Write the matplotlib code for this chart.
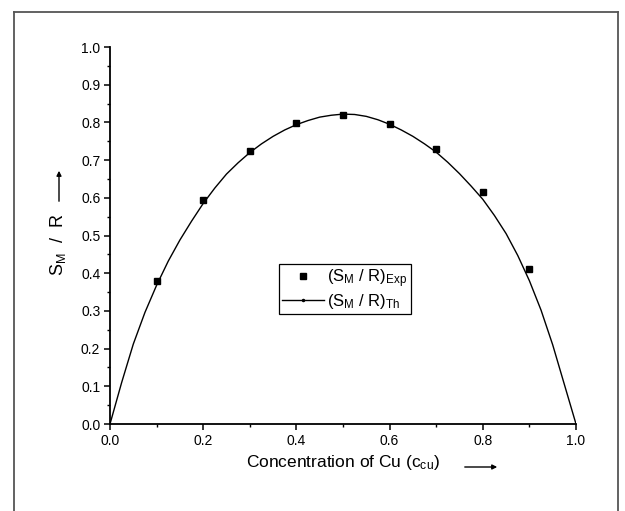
import matplotlib
matplotlib.use("Agg")
import matplotlib.pyplot as plt
from matplotlib.lines import Line2D
from matplotlib.patches import FancyArrowPatch

plt.rcParams['font.family'] = ['Liberation Sans', 'DejaVu Sans']
plt.rcParams['mathtext.fontset'] = 'custom'
plt.rcParams['mathtext.rm'] = 'Liberation Sans'
plt.rcParams['mathtext.it'] = 'Liberation Sans'

# Experimental points
c_exp = [0.1, 0.2, 0.3, 0.4, 0.5, 0.6, 0.7, 0.8, 0.9]
s_exp = [0.380, 0.593, 0.724, 0.799, 0.820, 0.796, 0.729, 0.615, 0.412]

# Theoretical curve
c_th = [0.000, 0.025, 0.050, 0.075, 0.100, 0.125, 0.150, 0.175, 0.200, 0.225,
        0.250, 0.275, 0.300, 0.325, 0.350, 0.375, 0.400, 0.425, 0.450, 0.475,
        0.500, 0.525, 0.550, 0.575, 0.600, 0.625, 0.650, 0.675, 0.700, 0.725,
        0.750, 0.775, 0.800, 0.825, 0.850, 0.875, 0.900, 0.925, 0.950, 0.975, 1.000]
s_th = [0.000, 0.110, 0.212, 0.296, 0.368, 0.432, 0.488, 0.538, 0.585, 0.626,
        0.663, 0.693, 0.720, 0.743, 0.763, 0.780, 0.794, 0.805, 0.814, 0.819,
        0.822, 0.821, 0.816, 0.807, 0.795, 0.780, 0.763, 0.743, 0.721, 0.694,
        0.664, 0.631, 0.596, 0.553, 0.505, 0.447, 0.380, 0.302, 0.210, 0.105, 0.000]

xticks = [0.0, 0.2, 0.4, 0.6, 0.8, 1.0]
yticks = [0.0, 0.1, 0.2, 0.3, 0.4, 0.5, 0.6, 0.7, 0.8, 0.9, 1.0]

W, H = 625, 511
fig = plt.figure(figsize=(W / 100, H / 100), dpi=100)
ax = fig.add_axes([110 / W, 1 - 424 / H, (576 - 110) / W, (424 - 47) / H])

ax.plot(c_th, s_th, color='black', lw=1.0, zorder=2)
ax.plot(c_exp, s_exp, 's', color='black', ms=4.2, zorder=3)

ax.set_xlim(0, 1)
ax.set_ylim(0, 1)
ax.set_xticks(xticks)
ax.set_yticks(yticks)
ax.set_xticklabels([f"{v:.1f}" for v in xticks])
ax.set_yticklabels([f"{v:.1f}" for v in yticks])
ax.set_xticks([0.1, 0.3, 0.5, 0.7, 0.9], minor=True)
ax.set_yticks([0.05 + 0.1 * i for i in range(10)], minor=True)
ax.tick_params(which='major', direction='out', length=4, width=1.1, labelsize=10, pad=3)
ax.tick_params(which='minor', direction='out', length=2.5, width=1.0)
ax.spines['top'].set_visible(False)
ax.spines['right'].set_visible(False)
ax.spines['left'].set_linewidth(1.3)
ax.spines['bottom'].set_linewidth(1.3)

ax.set_xlabel(r'Concentration of Cu (c$_{\mathregular{cu}}$)', fontsize=12.5, labelpad=4)
ax.set_ylabel(r'S$_{\mathregular{M}}$  /  R', fontsize=13)
ax.yaxis.set_label_coords(-0.09, 0.475)

# arrows next to axis labels
fig.patches.append(FancyArrowPatch((462 / W, 1 - 467 / H), (500 / W, 1 - 467 / H),
                                   transform=fig.transFigure, arrowstyle='-|>',
                                   mutation_scale=7, lw=1.0, color='black'))
fig.patches.append(FancyArrowPatch((59 / W, 1 - 204 / H), (59 / W, 1 - 168 / H),
                                   transform=fig.transFigure, arrowstyle='-|>',
                                   mutation_scale=7, lw=1.0, color='black'))

handles = [Line2D([], [], marker='s', ls='none', color='black', ms=4.2),
           Line2D([], [], marker='.', ls='-', color='black', lw=1.0, ms=3)]
labels = [r'(S$_{\mathregular{M}}$ / R)$_{\mathregular{Exp}}$',
          r'(S$_{\mathregular{M}}$ / R)$_{\mathregular{Th}}$']
leg = ax.legend(handles, labels, loc='upper left',
                bbox_to_anchor=((279 - 110) / 466, (424 - 264) / 377),
                frameon=True, fancybox=False, framealpha=1, edgecolor='black',
                fontsize=12, handlelength=2.5, handletextpad=0.2,
                borderpad=0.2, labelspacing=0.1, borderaxespad=0)
leg.get_frame().set_linewidth(0.9)

# outer frame
for (x0, y0, x1, y1) in [(14, 12, 14, 520), (14, 12, 618, 12), (618, 12, 618, 520)]:
    fig.add_artist(Line2D([x0 / W, x1 / W], [1 - y0 / H, 1 - y1 / H],
                          transform=fig.transFigure, color='#555555', lw=1.3))

fig.savefig('out.png', dpi=100)
